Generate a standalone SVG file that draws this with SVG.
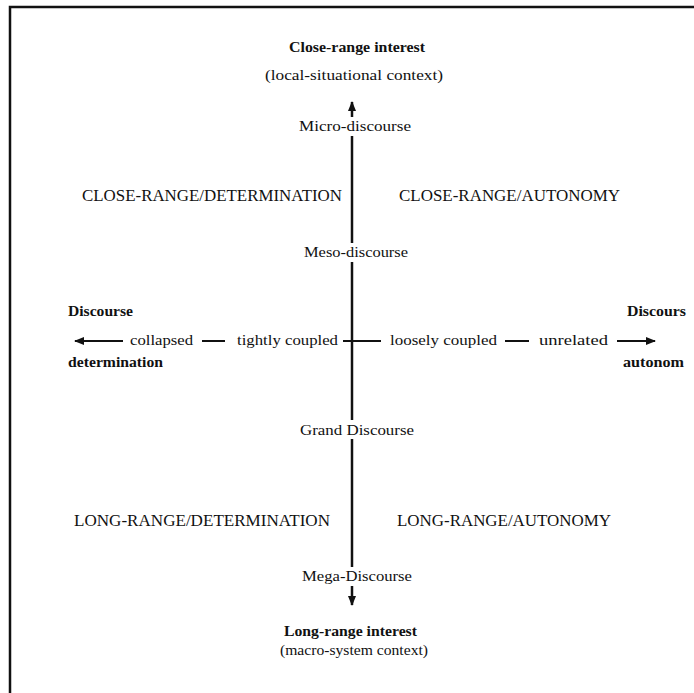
<svg xmlns="http://www.w3.org/2000/svg" width="694" height="693" viewBox="0 0 694 693">
<defs>
<style>
.t{font-family:"Liberation Serif","Times New Roman",serif;font-size:15.5px;fill:#111}
.b{font-weight:bold}
.c{font-size:16px}
.ln{stroke:#111;fill:none}
</style>
<marker id="ah" viewBox="0 0 10 10" refX="9" refY="5" markerWidth="10" markerHeight="10" markerUnits="userSpaceOnUse" orient="auto">
<path d="M0,1 L10,5 L0,9 Z" fill="#111"/>
</marker>
</defs>
<rect x="0" y="0" width="694" height="693" fill="#fff"/>
<rect x="10" y="7" width="700" height="700" fill="none" stroke="#111" stroke-width="2.5"/>

<g id="connectors">
<line class="ln" stroke-width="2.5" x1="352" y1="117" x2="352" y2="102" marker-end="url(#ah)"/>
<line class="ln" stroke-width="2.5" x1="352" y1="136" x2="352" y2="243"/>
<line class="ln" stroke-width="2.5" x1="352" y1="262" x2="352" y2="420"/>
<line class="ln" stroke-width="2.5" x1="352" y1="439" x2="352" y2="567"/>
<line class="ln" stroke-width="2.5" x1="352" y1="586" x2="352" y2="605" marker-end="url(#ah)"/>
<line class="ln" stroke-width="2" x1="123" y1="341" x2="75" y2="341" marker-end="url(#ah)"/>
<line class="ln" stroke-width="2" x1="202" y1="341" x2="225" y2="341"/>
<line class="ln" stroke-width="2" x1="343" y1="341" x2="381" y2="341"/>
<line class="ln" stroke-width="2" x1="505" y1="341" x2="529" y2="341"/>
<line class="ln" stroke-width="2" x1="617" y1="341" x2="655" y2="341" marker-end="url(#ah)"/>
</g>

<g id="top-pole">
<text class="t b" x="289" y="52" textLength="136" lengthAdjust="spacingAndGlyphs">Close-range interest</text>
<text class="t" x="265" y="80" textLength="178" lengthAdjust="spacingAndGlyphs">(local-situational context)</text>
</g>
<g id="micro"><text class="t" x="299" y="131" textLength="112" lengthAdjust="spacingAndGlyphs">Micro-discourse</text></g>
<g id="q-close-det"><text class="t c" x="82" y="201" textLength="260" lengthAdjust="spacingAndGlyphs">CLOSE-RANGE/DETERMINATION</text></g>
<g id="q-close-aut"><text class="t c" x="399" y="201" textLength="221" lengthAdjust="spacingAndGlyphs">CLOSE-RANGE/AUTONOMY</text></g>
<g id="meso"><text class="t" x="304" y="257" textLength="104" lengthAdjust="spacingAndGlyphs">Meso-discourse</text></g>
<g id="left-pole">
<text class="t b" x="68" y="316" textLength="65" lengthAdjust="spacingAndGlyphs">Discourse</text>
<text class="t b" x="68" y="367" textLength="95" lengthAdjust="spacingAndGlyphs">determination</text>
</g>
<g id="right-pole">
<text class="t b" x="627" y="316" textLength="59" lengthAdjust="spacingAndGlyphs">Discours</text>
<text class="t b" x="623" y="367" textLength="61" lengthAdjust="spacingAndGlyphs">autonom</text>
</g>
<g id="collapsed"><text class="t" x="130" y="345" textLength="63" lengthAdjust="spacingAndGlyphs">collapsed</text></g>
<g id="tightly"><text class="t" x="237" y="345" textLength="101" lengthAdjust="spacingAndGlyphs">tightly coupled</text></g>
<g id="loosely"><text class="t" x="390" y="345" textLength="107" lengthAdjust="spacingAndGlyphs">loosely coupled</text></g>
<g id="unrelated"><text class="t" x="539" y="345" textLength="69" lengthAdjust="spacingAndGlyphs">unrelated</text></g>
<g id="grand"><text class="t" x="300" y="435" textLength="114" lengthAdjust="spacingAndGlyphs">Grand Discourse</text></g>
<g id="q-long-det"><text class="t c" x="74" y="526" textLength="256" lengthAdjust="spacingAndGlyphs">LONG-RANGE/DETERMINATION</text></g>
<g id="q-long-aut"><text class="t c" x="397" y="526" textLength="214" lengthAdjust="spacingAndGlyphs">LONG-RANGE/AUTONOMY</text></g>
<g id="mega"><text class="t" x="302" y="581" textLength="110" lengthAdjust="spacingAndGlyphs">Mega-Discourse</text></g>
<g id="bottom-pole">
<text class="t b" x="284" y="636" textLength="133" lengthAdjust="spacingAndGlyphs">Long-range interest</text>
<text class="t" x="280" y="655" textLength="148" lengthAdjust="spacingAndGlyphs">(macro-system context)</text>
</g>
</svg>
